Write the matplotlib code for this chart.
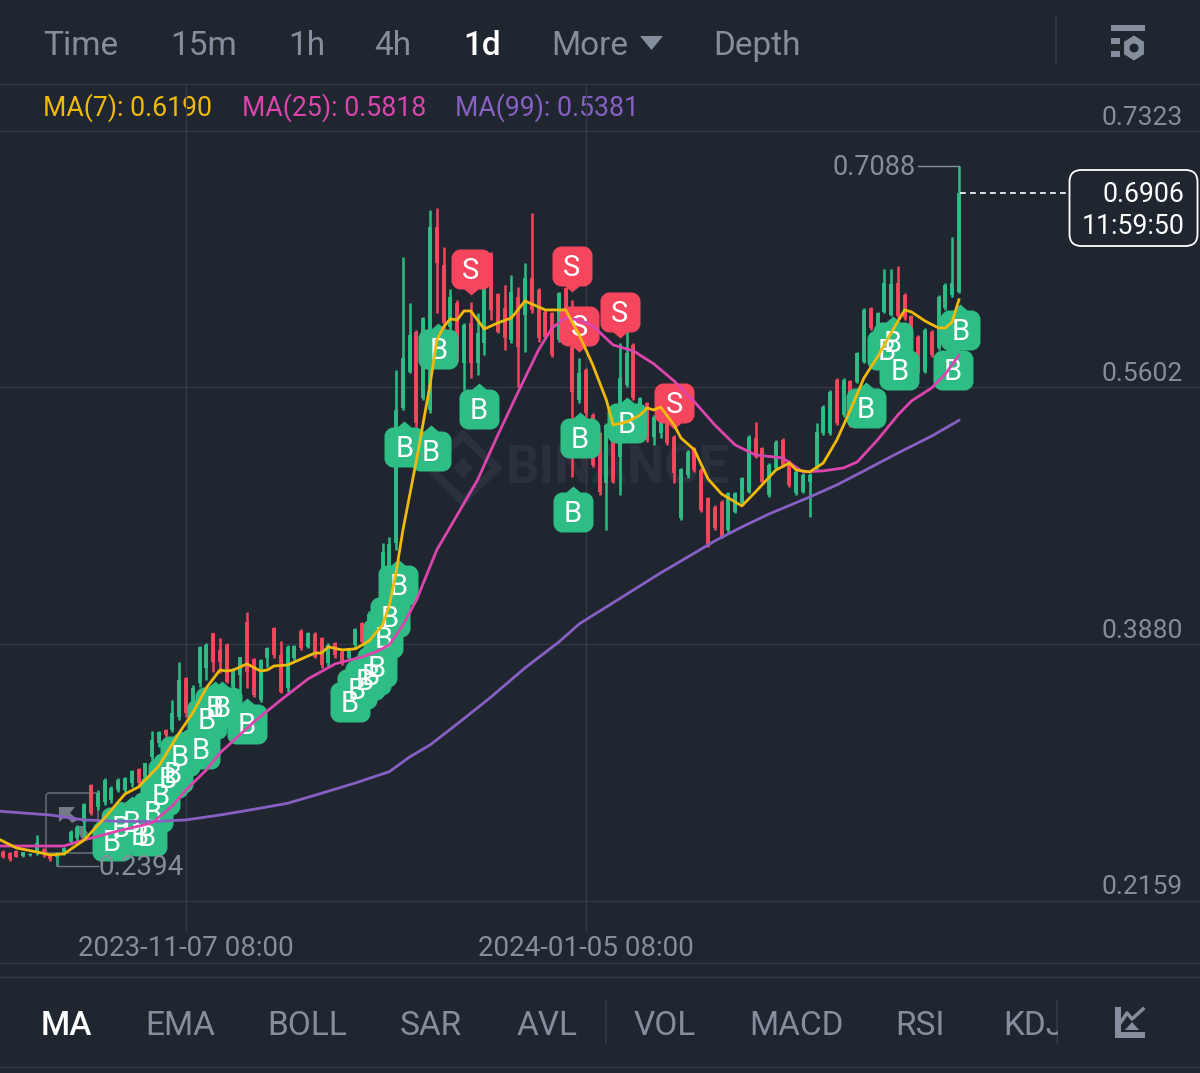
import numpy as np
import matplotlib
matplotlib.use("Agg")
import matplotlib.pyplot as plt
from matplotlib.path import Path
from matplotlib.patches import FancyBboxPatch, Polygon, Rectangle, Circle

plt.rcParams['font.family'] = ['Roboto', 'DejaVu Sans']

BG = '#1f2630'
GRID = '#333a45'
GRAY = '#848e9c'
GREEN = '#2ebd85'
RED = '#f6465d'
YELLOW = '#f0b90b'
MAGENTA = '#dc44ae'
PURPLE = '#8860c4'

# days counted from 2023-11-07, daily candles
first_day = -27
opens = [.2487, .2476, .2494, .2458, .2462, .2476, .2503, .2465, .2454, .2476,
         .2554, .2577, .2688, .2934, .2789, .2823, .2834, .2901, .2901, .2946,
         .3040, .2990, .3125, .3214, .3304, .3304, .3393, .3650, .3494, .3617,
         .3717, .3952, .3840, .3874, .3594, .3673, .4031, .3778, .3505, .3785,
         .3986, .3807, .3583, .3785, .3970, .3863, .3948, .3919, .3751, .3885,
         .3829, .3785, .3874, .4019, .3970, .3880, .4100, .4200, .4556, .5462,
         .5708, .5976, .5529, .5451, .6681, .6424, .6010, .6166, .5764, .6032,
         .5764, .5898, .6502, .6229, .6133, .5920, .6211, .6088, .6334, .6256,
         .6111, .6099, .5920, .6267, .5876, .5518, .5719, .5417, .5294, .4958,
         .5260, .5137, .5618, .5887, .5328, .5495, .5272, .5294, .5372, .5272,
         .4725, .5016, .5194, .5048, .4859, .4803, .4836, .4646, .4769, .4825,
         .4903, .5261, .5194, .4881, .5059, .5250, .5105, .4892, .4903, .4970,
         .5060, .5294, .5294, .5653, .5417, .5642, .5641, .5775, .6134, .5910,
         .6111, .6089, .6305, .6223, .6078, .5943, .5708, .5977, .5865, .6133,
         .6223, .6245]
closes = [.2454, .2436, .2454, .2483, .2471, .2543, .2471, .2436, .2476, .2509,
          .2621, .2655, .2807, .2744, .2879, .2968, .2912, .2968, .2979, .3031,
          .2946, .3080, .3236, .3292, .3270, .3415, .3639, .3415, .3583, .3863,
          .3874, .3762, .3762, .3628, .3706, .3791, .3695, .3538, .3773, .3852,
          .3807, .3561, .3863, .3867, .3852, .3952, .3796, .3740, .3874, .3807,
          .3751, .3840, .3979, .3896, .4085, .4100, .4500, .4550, .5451, .5797,
          .5954, .5361, .6066, .6681, .6435, .6032, .6211, .5797, .6021, .5764,
          .5965, .6278, .6122, .5976, .5932, .6245, .5876, .6334, .6122, .5932,
          .5943, .5820, .6234, .6043, .5574, .5701, .5428, .5081, .4903, .5350,
          .4970, .5663, .5831, .5529, .5529, .5249, .5406, .5372, .5227, .5026,
          .5055, .5172, .5048, .4780, .4550, .4657, .4601, .4892, .4892, .4993,
          .5272, .5138, .4970, .5082, .5239, .5082, .4948, .5037, .5015, .5015,
          .5306, .5474, .5574, .5361, .5653, .5350, .5832, .6122, .5999, .6100,
          .6300, .6295, .6078, .6066, .5865, .5708, .5988, .5820, .6212, .6290,
          .6301, .6906]
highs = [.2498, .2483, .2498, .2487, .2476, .2599, .2509, .2476, .2487, .2521,
         .2632, .2666, .2811, .2941, .2901, .2984, .2928, .2979, .2990, .3035,
         .3046, .3084, .3299, .3299, .3308, .3505, .3762, .3661, .3606, .3867,
         .3890, .3957, .3919, .3885, .3717, .3796, .4098, .3785, .3778, .3863,
         .3997, .3903, .3874, .3874, .3979, .3963, .3959, .3925, .3885, .3896,
         .3840, .3852, .3986, .4031, .4100, .4109, .4556, .4600, .5719, .6480,
         .6166, .5987, .6077, .6793, .6804, .6547, .6260, .6189, .6032, .6178,
         .6099, .6289, .6513, .6234, .6289, .6357, .6278, .6435, .6775, .6267,
         .6122, .6111, .6245, .6278, .6189, .5797, .5730, .5428, .5305, .5361,
         .5272, .5898, .5987, .5898, .5540, .5506, .5417, .5383, .5383, .5283,
         .5060, .5183, .5205, .5060, .4870, .4814, .4847, .4903, .4903, .5004,
         .5283, .5373, .5205, .5093, .5250, .5261, .5116, .5048, .5026, .5026,
         .5362, .5485, .5585, .5664, .5664, .5653, .5843, .6133, .6145, .6111,
         .6395, .6395, .6418, .6234, .6089, .5954, .5999, .5988, .6223, .6301,
         .6614, .7088]
lows = [.2442, .2427, .2449, .2454, .2458, .2465, .2454, .2427, .2394, .2465,
        .2532, .2561, .2588, .2733, .2767, .2800, .2811, .2890, .2890, .2923,
        .2923, .2968, .3102, .3192, .3259, .3292, .3371, .3393, .3483, .3594,
        .3639, .3695, .3684, .3617, .3583, .3550, .3583, .3527, .3494, .3729,
        .3785, .3550, .3561, .3773, .3840, .3852, .3785, .3717, .3729, .3785,
        .3740, .3773, .3852, .3885, .3950, .3860, .4040, .4150, .4511, .5451,
        .5697, .5339, .5518, .5428, .6099, .5987, .5987, .5775, .5585, .5663,
        .5685, .5820, .6055, .5965, .5853, .5898, .5607, .5842, .6099, .5909,
        .5932, .5809, .5909, .6032, .5003, .5495, .5406, .5070, .4880, .4645,
        .4958, .4880, .5607, .5518, .5316, .5238, .5216, .5260, .5216, .4958,
        .4713, .4993, .5037, .4769, .4534, .4646, .4590, .4635, .4758, .4814,
        .4892, .5127, .4959, .4870, .5048, .5071, .4937, .4881, .4892, .4735,
        .5048, .5283, .5283, .5350, .5406, .5339, .5630, .5764, .5988, .5899,
        .6100, .6078, .6066, .6055, .5854, .5697, .5697, .5809, .5854, .6122,
        .6212, .6234]

# moving averages, vertices
ma7_days = [-28, -25, -22, -20, -18, -15, -12, -9, -7, -4, -1, 1, 3, 5, 6, 7, 9, 11, 12, 13, 15,
            17, 19, 20, 21, 23, 25, 27, 29, 30, 31, 32, 34, 36, 37, 38, 39, 40, 41, 42, 44,
            46, 48, 50, 52, 53, 56, 58, 60, 62, 63, 65, 67, 68, 69, 70, 72, 73, 75, 77, 79,
            82, 84, 87, 89, 90, 92, 94, 96, 98, 100, 102, 104, 106, 107, 109, 111, 112, 113, 114]
ma7_vals = [.2580, .2512, .2485, .2465, .2472, .2566, .2713, .2874, .2921, .3062, .3284, .3418,
            .3586, .3706, .3699, .3706, .3747, .3699, .3706, .3733, .3740, .3780, .3820, .3820,
            .3861, .3841, .3848, .3901, .4008, .4142, .4364, .4646, .5115, .5619, .5921, .6008,
            .6062, .6055, .6115, .6115, .5994, .6035, .6068, .6182, .6142, .6122, .6122, .5954,
            .5753, .5518, .5350, .5370, .5417, .5464, .5451, .5471, .5350, .5263, .5183, .4988,
            .4887, .4807, .4901, .5048, .5095, .5048, .5035, .5095, .5250, .5451, .5666, .5807,
            .5968, .6122, .6109, .6048, .6001, .6001, .6041, .6190]
ma25_days = [-28, -18, -15, -10, -5, -2, 0, 3, 5, 10, 14, 18, 22, 26, 28, 30, 32, 34, 37, 40, 43,
             46, 49, 52, 54, 56, 58, 60, 63, 66, 69, 72, 75, 78, 81, 84, 88, 91, 94, 97, 99,
             102, 105, 107, 110, 112, 114]
ma25_vals = [.2525, .2525, .2566, .2626, .2680, .2794, .2901, .3035, .3149, .3357, .3505, .3646,
             .3747, .3794, .3827, .3874, .4008, .4176, .4512, .4746, .4981, .5283, .5572, .5854,
             .6001, .6068, .6055, .6015, .5887, .5847, .5760, .5645, .5505, .5350, .5216, .5149,
             .5129, .5035, .5042, .5062, .5102, .5250, .5417, .5511, .5599, .5692, .5818]
ma99_days = [-28, -20, -15, -10, -5, 0, 5, 10, 15, 20, 25, 30, 33, 36, 40, 45, 50, 55, 58, 62, 66,
             70, 75, 78, 82, 86, 92, 96, 100, 105, 110, 114]
ma99_vals = [.2760, .2733, .2700, .2691, .2689, .2700, .2733, .2771, .2812, .2879, .2948, .3024,
             .3123, .3203, .3344, .3525, .3720, .3894, .4015, .4129, .4243, .4357, .4491, .4572,
             .4666, .4753, .4867, .4948, .5042, .5162, .5276, .5381]

# buy / sell badges
buy_days = [-10.9, -9.6, -8.0, -6.8, -5.8, -4.9, -3.8, -2.7, -1.9, -0.9, 2.1, 3.1, 4.3, 5.3, 9.0,
            24.2, 25.2, 26.4, 27.3, 28.2, 29.1, 30.1, 31.3, 32.2, 36.1, 37.2, 43.2, 58.1, 57.1,
            65.0, 100.3, 103.4, 104.3, 105.2, 113.1, 114.2]
buy_prices = [.2559, .2653, .2686, .2599, .2592, .2753, .2868, .2982, .3015, .3129, .3176, .3378,
              .3458, .3458, .3344, .3492, .3579, .3639, .3673, .3726, .3921, .4062, .4277, .5203,
              .5176, .5860, .5458, .5263, .4766, .5364, .5464, .5854, .5907, .5719, .5719, .5988]
sell_days = [42.0, 56.9, 58.0, 64.0, 72.0]
sell_prices = [.6397, .6417, .6015, .6108, .5498]

# axis stuff
price_ticks = [0.7323, 0.5602, 0.3880, 0.2159]
price_labels = ['0.7323', '0.5602', '0.3880', '0.2159']
date_ticks = [0, 59]
date_labels = ['2023-11-07 08:00', '2024-01-05 08:00']
last_price = 0.6906
countdown = '11:59:50'
high_price = 0.7088
high_day = 114
low_price = 0.2394
low_day = -19

interval_tabs = ['Time', '15m', '1h', '4h', '1d', 'More', 'Depth']
interval_x = [43, 170, 288, 374, 463, 551, 713]
indicator_tabs = ['MA', 'EMA', 'BOLL', 'SAR', 'AVL', 'VOL', 'MACD', 'RSI', 'KDJ']
indicator_x = [41, 145, 267, 400, 517, 634, 749, 895, 1003]

fig = plt.figure(figsize=(12, 10.73), dpi=100, facecolor=BG)

# full page axes in pixels for the app chrome
ui = fig.add_axes([0, 0, 1, 1], zorder=0)
ui.set_xlim(0, 1200)
ui.set_ylim(1073, 0)
ui.axis('off')

for y in [84, 963, 977, 1067]:
    ui.plot([0, 1200], [y, y], color=GRID, lw=1)
for x, y0, y1 in [(1056, 18, 63), (606, 1001, 1043), (1057, 1001, 1043)]:
    ui.plot([x, x], [y0, y1], color=GRID, lw=1.2)

for name, x in zip(interval_tabs, interval_x):
    active = name == '1d'
    ui.text(x, 46, name, color='white' if active else GRAY, fontsize=24,
            weight='medium' if active else 'normal', va='center', ha='left')
ui.add_patch(Polygon([(640, 36), (663, 36), (651.5, 50)], color=GRAY, lw=0))

# settings icon top right
ui.add_patch(Rectangle((1111, 25), 34, 6, color=GRAY, lw=0))
ui.add_patch(Rectangle((1111, 38), 9, 6, color=GRAY, lw=0))
ui.add_patch(Rectangle((1111, 51), 9, 6, color=GRAY, lw=0))
hex_x = 1134 + 11.5 * np.sin(np.arange(6) * np.pi / 3)
hex_y = 48 + 12.5 * np.cos(np.arange(6) * np.pi / 3)
ui.add_patch(Polygon(np.column_stack([hex_x, hex_y]), color=GRAY, lw=0))
ui.add_patch(Circle((1134, 48), 4.5, color=BG, lw=0))

for name, x in zip(indicator_tabs, indicator_x):
    active = name == 'MA'
    ui.text(x, 1026, name, color='white' if active else GRAY, fontsize=24,
            weight='medium' if active else 'normal', va='center', ha='left')
# KDJ is cut off by the divider
ui.add_patch(Rectangle((1058, 1000), 20, 45, color=BG, lw=0, zorder=5))

# indicator icon bottom right
ui.add_patch(Polygon([(1115, 1007), (1121, 1007), (1121, 1032), (1145, 1032), (1145, 1038), (1115, 1038)],
                     color=GRAY, lw=0))
ui.plot([1121, 1127, 1132, 1143], [1022, 1013, 1019, 1009], color=GRAY, lw=2.5)
ui.add_patch(Polygon([(1125, 1030), (1132, 1022), (1139, 1030)], color=GRAY, lw=0))

ma_legend = [('MA(7): 0.6190', 43, YELLOW), ('MA(25): 0.5818', 242, MAGENTA), ('MA(99): 0.5381', 455, PURPLE)]
for label, x, col in ma_legend:
    ui.text(x, 108, label, color=col, fontsize=19.2, va='center', ha='left')

# watermark
wm = '#2b313c'
ui.text(506, 469, 'BINANCE', color=wm, fontsize=38, weight='bold', va='center', ha='left')
ui.add_patch(Polygon([(463, 435), (497, 468), (463, 501), (429, 468)], closed=True, fill=False, ec=wm, lw=6))
ui.add_patch(Polygon([(463, 458), (473, 468), (463, 478), (453, 468)], color=wm, lw=0))

# scroll back button, mostly hidden under the candles
ui.add_patch(FancyBboxPatch((46, 793), 52, 60, boxstyle='round,pad=0,rounding_size=3',
                            fill=False, ec='#5c636e', lw=1.3))
ui.add_patch(Polygon([(59, 807), (75, 807), (70, 813), (78, 820), (72, 823), (66, 816), (59, 822)],
                     color='#747b87', lw=0))
ui.add_patch(Polygon([(77, 826), (83, 826), (88, 833), (83, 840), (77, 832)], color='#747b87', lw=0))

# price chart
ax = fig.add_axes([0, (1073 - 963) / 1073, 1, (963 - 84) / 1073], zorder=1)
ax.patch.set_alpha(0)
ax.set_xlim(-27.43, 149.56)
ax.set_ylim(0.1740, 0.7638)
for s in ax.spines.values():
    s.set_visible(False)
ax.set_xticks([])
ax.set_yticks([])

for p, label in zip(price_ticks, price_labels):
    ax.axhline(p, color=GRID, lw=1, zorder=0)
    ax.annotate(label, xy=(1183 / 1200, p), xycoords=ax.get_yaxis_transform(), xytext=(0, 9.4),
                textcoords='offset points', color=GRAY, fontsize=19, ha='right', va='center')
for d, label in zip(date_ticks, date_labels):
    ax.axvline(d, ymin=(963 - 930) / 879, ymax=1, color=GRID, lw=1, zorder=0)
    ax.text(d, (963 - 949) / 879, label, transform=ax.get_xaxis_transform(), color=GRAY,
            fontsize=20, ha='center', va='center')

days = np.arange(first_day, first_day + len(opens))
opens = np.array(opens)
closes = np.array(closes)
highs = np.array(highs)
lows = np.array(lows)
colors = np.where(closes >= opens, GREEN, RED)

ax.vlines(days, lows, highs, colors=colors, lw=1.8, zorder=1)
ax.vlines(days, np.minimum(opens, closes), np.maximum(opens, closes), colors=colors, lw=2.8, zorder=1)

# badges: rounded square with a little tip, size is in px of the path
r = 9
hw = 20
tip = 6
k = 0.55 * r
buy_verts = [(-hw, hw - r), (-hw, -hw + r), (-hw, -hw + r - k), (-hw + r - k, -hw), (-hw + r, -hw),
             (hw - r, -hw), (hw - r + k, -hw), (hw, -hw + r - k), (hw, -hw + r),
             (hw, hw - r), (hw, hw - r + k), (hw - r + k, hw), (hw - r, hw),
             (7, hw), (0, hw + tip), (-7, hw), (-hw + r, hw),
             (-hw + r - k, hw), (-hw, hw - r + k), (-hw, hw - r), (-hw, hw - r)]
buy_codes = [Path.MOVETO, Path.LINETO, Path.CURVE4, Path.CURVE4, Path.CURVE4,
             Path.LINETO, Path.CURVE4, Path.CURVE4, Path.CURVE4,
             Path.LINETO, Path.CURVE4, Path.CURVE4, Path.CURVE4,
             Path.LINETO, Path.LINETO, Path.LINETO, Path.LINETO,
             Path.CURVE4, Path.CURVE4, Path.CURVE4, Path.CLOSEPOLY]
buy_marker = Path(buy_verts, buy_codes)
sell_marker = Path([(x, -y) for x, y in buy_verts], buy_codes)
badge_size = (2 * (hw + tip) * 0.72) ** 2

ax.scatter(buy_days, buy_prices, marker=buy_marker, s=badge_size, color=GREEN, lw=0, zorder=2)
ax.scatter(sell_days, sell_prices, marker=sell_marker, s=badge_size, color=RED, lw=0, zorder=2)
for d, p in zip(buy_days, buy_prices):
    ax.annotate('B', xy=(d, p), xytext=(0, -1.5), textcoords='offset points', color='white',
                fontsize=21, ha='center', va='center', zorder=3)
for d, p in zip(sell_days, sell_prices):
    ax.annotate('S', xy=(d, p), xytext=(0, -1.5), textcoords='offset points', color='white',
                fontsize=21, ha='center', va='center', zorder=3)

ax.plot(ma99_days, ma99_vals, color=PURPLE, lw=2, zorder=4)
ax.plot(ma25_days, ma25_vals, color=MAGENTA, lw=2, zorder=5)
ax.plot(ma7_days, ma7_vals, color=YELLOW, lw=2, zorder=6)

# high and low markers
ax.plot([(918 - 186) / 6.78, high_day], [high_price, high_price], color=GRAY, lw=1, zorder=1)
ax.annotate(f'{high_price:.4f}', xy=(916 / 1200, high_price), xycoords=ax.get_yaxis_transform(),
            xytext=(0, -1), textcoords='offset points', color=GRAY, fontsize=19.5, ha='right', va='center')
ax.plot([low_day, low_day, low_day + 6], [0.2450, low_price, low_price], color='#747b87', lw=1, zorder=1)
ax.annotate(f'{low_price:.4f}', xy=(98 / 1200, low_price), xycoords=ax.get_yaxis_transform(),
            xytext=(0, -1.5), textcoords='offset points', color=GRAY, fontsize=20, ha='left', va='center', zorder=7)

# last price line and box
ax.plot([114.2, 130.4], [last_price, last_price], color='white', lw=1.2, ls=(0, (3.5, 2.5)), zorder=3)
ui_box = FancyBboxPatch((1069.5, 170), 128, 76, boxstyle='round,pad=0,rounding_size=12',
                        fc=BG, ec='white', lw=1.3, zorder=8)
ui.add_patch(ui_box)
ui.text(1184, 195, f'{last_price:.4f}', color='white', fontsize=19.2, ha='right', va='center', zorder=9)
ui.text(1185, 226, countdown, color='white', fontsize=19.2, ha='right', va='center', zorder=9)

fig.savefig('out.png', dpi=100, facecolor=BG)
